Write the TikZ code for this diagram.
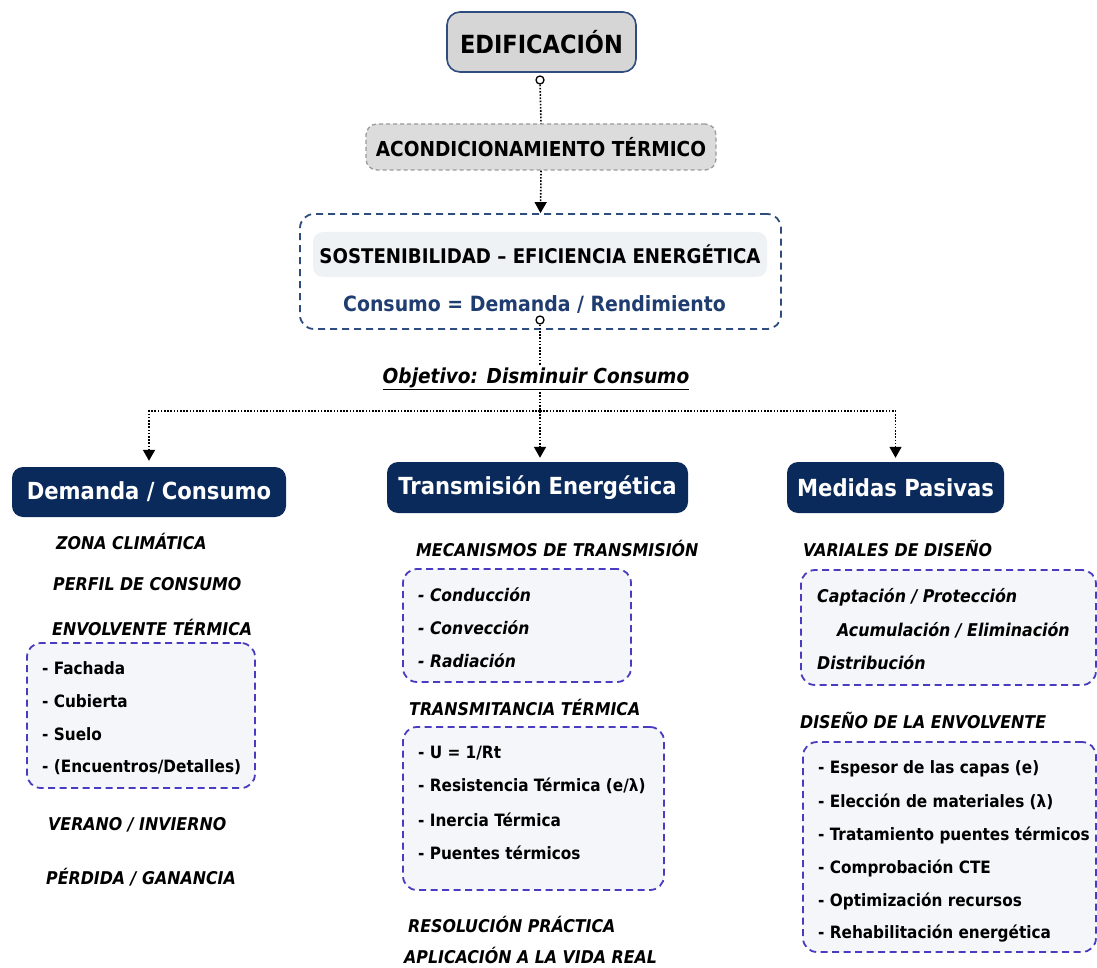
\documentclass[tikz,border=0pt]{standalone}
\usepackage{fontspec}
\setmainfont{DejaVu Sans Condensed}
\usetikzlibrary{arrows.meta}
\definecolor{navy}{HTML}{0B2A5C}
\definecolor{dashpurple}{HTML}{4A3CC0}
\definecolor{boxfill}{HTML}{F4F6F9}
\definecolor{topblue}{HTML}{2E4C7E}
\definecolor{consblue}{HTML}{1F3D70}
\definecolor{edfill}{HTML}{D6D6D6}
\definecolor{acfill}{HTML}{DCDCDC}
\definecolor{acborder}{HTML}{9A9A9A}
\definecolor{sostfill}{HTML}{EEF2F5}
\newcommand\fsz[1]{\fontsize{#1}{#1}\selectfont}
\begin{document}
\begin{tikzpicture}[x=1pt,y=-1pt,
  hdr/.style={rectangle, rounded corners=11pt, fill=navy, text=white, font=\fsz{23.5}\bfseries, inner sep=0pt},
  dbox/.style={rectangle, draw=dashpurple, line width=1.8pt, dash pattern=on 7pt off 4.5pt, rounded corners=14pt, fill=boxfill, inner sep=0pt},
  capit/.style={anchor=west, inner sep=0pt, font=\fsz{17.6}\bfseries\itshape},
  item/.style={anchor=west, inner sep=0pt, font=\fsz{17}\bfseries},
  circ/.style={circle, draw, line width=1.3pt, fill=white, inner sep=0pt, minimum size=8pt},
  dotline/.style={line width=1.6pt, dash pattern=on 1.6pt off 1.6pt},
  tip/.style={-{Triangle[width=12pt,length=11pt]}}
]
\useasboundingbox (0,0) rectangle (1097,968);

% top
\node[rectangle, rounded corners=13pt, draw=topblue, line width=1.6pt, fill=edfill,
  minimum width=189pt, minimum height=60pt, inner sep=0pt, font=\fsz{25}\bfseries] (edif) at (541.5,42) {EDIFICACIÓN};
\node[circ] (c1) at (540,80) {};
\node[rectangle, rounded corners=11pt, draw=acborder, line width=1.3pt, dash pattern=on 4pt off 3pt, fill=acfill,
  minimum width=350pt, minimum height=46pt, inner sep=0pt, font=\fsz{20.6}\bfseries] (acond) at (541,147) {ACONDICIONAMIENTO TÉRMICO};
\node[rectangle, rounded corners=14pt, draw=topblue, line width=1.8pt, dash pattern=on 7pt off 5pt,
  minimum width=481pt, minimum height=115pt, inner sep=0pt] (big) at (540.5,271.5) {};
\node[rectangle, rounded corners=10pt, fill=sostfill, minimum width=454pt, minimum height=45pt, inner sep=0pt,
  font=\fsz{20.2}\bfseries] (sost) at (540,254.5) {SOSTENIBILIDAD – EFICIENCIA ENERGÉTICA};
\node[inner sep=0pt, text=consblue, font=\fsz{21}\bfseries] (cons) at (534.5,304) {Consumo = Demanda / Rendimiento};
\node[circ] (c2) at (540,320) {};
\node[inner sep=2pt, font=\fsz{20.6}\bfseries\itshape] (obj) at (536,379) {\underline{Objetivo: Disminuir Consumo}};
\coordinate (j) at (540,411);

% headers
\node[hdr, minimum width=274pt, minimum height=50pt] (dem) at (149,492) {Demanda / Consumo};
\node[hdr, minimum width=301pt, minimum height=51pt] (tra) at (537.5,487.5) {Transmisión Energética};
\node[hdr, minimum width=217pt, minimum height=51pt] (med) at (895.5,487.5) {Medidas Pasivas};

% connectors
\draw[dotline] (c1) -- (acond.north);
\draw[dotline,tip] (acond.south) -- (big.north);
\draw[dotline] (c2) -- (obj.north -| c2);
\draw[dotline] (obj.south -| j) -- (j);
\draw[dotline,tip,shorten >=6pt] (j) -| (dem.north);
\draw[dotline,tip,shorten >=4pt] (j) -- (j |- tra.north);
\draw[dotline,tip,shorten >=4pt] (j) -| (med.north);

% left column
\node[capit] (l1) at (56,541) {ZONA CLIMÁTICA};
\node[capit] (l2) at (53,584) {PERFIL DE CONSUMO};
\node[capit] (l3) at (52,627) {ENVOLVENTE TÉRMICA};
\node[dbox, minimum width=228pt, minimum height=145pt] (lb) at (141,715.5) {};
\node[item] (l4) at (42,668) {- Fachada};
\node[item] (l5) at (42,701) {- Cubierta};
\node[item] (l6) at (42,734) {- Suelo};
\node[item] (l7) at (42,767) {- (Encuentros/Detalles)};
\node[capit] (l8) at (48,825) {VERANO / INVIERNO};
\node[capit] (l9) at (46,877) {PÉRDIDA / GANANCIA};

% middle column
\node[capit] (m1) at (416,548) {MECANISMOS DE TRANSMISIÓN};
\node[dbox, minimum width=228pt, minimum height=113pt] (mb1) at (517,625.5) {};
\node[item, font=\fsz{17.3}\bfseries\itshape] (m2) at (418,595) {- Conducción};
\node[item, font=\fsz{17.3}\bfseries\itshape] (m3) at (418,628) {- Convección};
\node[item, font=\fsz{17.3}\bfseries\itshape] (m4) at (418,661) {- Radiación};
\node[capit] (m5) at (409,707) {TRANSMITANCIA TÉRMICA};
\node[dbox, minimum width=261pt, minimum height=163pt] (mb2) at (533.5,808.5) {};
\node[item] (m6) at (418,753) {- U = 1/Rt};
\node[item] (m7) at (418,786) {- Resistencia Térmica (e/λ)};
\node[item] (m8) at (418,820) {- Inercia Térmica};
\node[item] (m9) at (418,853) {- Puentes térmicos};
\node[capit] (m10) at (408,924) {RESOLUCIÓN PRÁCTICA};
\node[capit] (m11) at (404,955) {APLICACIÓN A LA VIDA REAL};

% right column
\node[capit] (r1) at (803,548) {VARIALES DE DISEÑO};
\node[dbox, minimum width=295pt, minimum height=115pt] (rb1) at (948.5,627.5) {};
\node[capit] (r2) at (817,597) {Captación / Protección};
\node[capit] (r3) at (837,630) {Acumulación / Eliminación};
\node[capit] (r4) at (817,663) {Distribución};
\node[capit] (r5) at (800,720) {DISEÑO DE LA ENVOLVENTE};
\node[dbox, minimum width=293pt, minimum height=210pt] (rb2) at (949.5,847) {};
\node[item] (r6) at (818,769) {- Espesor de las capas (e)};
\node[item] (r7) at (818,802) {- Elección de materiales (λ)};
\node[item] (r8) at (818,835) {- Tratamiento puentes térmicos};
\node[item] (r9) at (818,868) {- Comprobación CTE};
\node[item] (r10) at (818,901) {- Optimización recursos};
\node[item] (r11) at (818,934) {- Rehabilitación energética};
\end{tikzpicture}
\end{document}
